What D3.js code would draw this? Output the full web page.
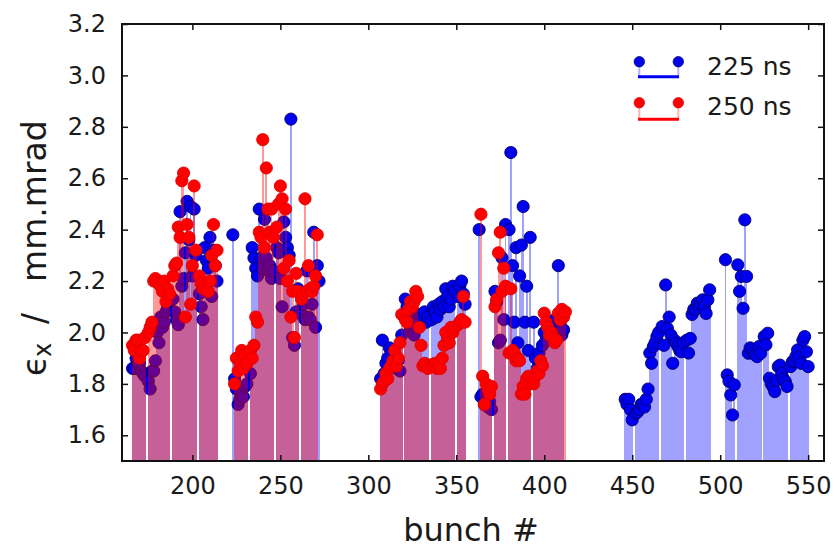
<!DOCTYPE html>
<html><head><meta charset="utf-8">
<script src="https://cdn.jsdelivr.net/npm/d3@7"></script>
<style>body{margin:0;background:#fff}</style>
</head><body>
<svg id="c" width="834" height="554"></svg>
<script>
// ---- data ----
const xTicks = [200, 250, 300, 350, 400, 450, 500, 550];
const yTicks = [1.6, 1.8, 2.0, 2.2, 2.4, 2.6, 2.8, 3.0, 3.2];
const seriesLabels = ["225 ns", "250 ns"];

// 225 ns (blue): train start bunches and per-bunch values (null = empty slot)
const blueStarts = [166, 223, 307, 363, 446, 503];
const blueA = [1.86,1.86,1.90,1.88,1.88,1.85,1.84,1.83,null,1.81,1.78,1.85,1.85,1.89,2.00,1.96,2.06,2.02,2.04,2.08,2.10,2.12,null,2.13,2.08,2.05,2.03,2.47,2.18,2.21,2.31,2.51,2.36,2.49,2.22,2.48,2.30,null,2.15,2.10,2.05,2.33,2.28,2.25,2.37,2.14,2.32,2.26,2.20];
const blueB = [2.38,1.82,1.78,1.72,1.74,1.76,1.75,1.79,1.80,null,1.84,2.33,2.29,2.25,2.22,2.48,2.29,2.25,2.44,2.29,2.24,2.26,2.21,2.24,null,2.33,2.31,2.21,2.10,2.43,2.37,2.33,2.30,2.83,1.98,1.95,2.08,2.17,null,2.07,2.11,2.05,2.24,2.06,2.05,2.11,2.39,2.02,2.26,2.20];
const blueC = [1.82,1.97,1.84,1.88,1.90,1.94,1.92,1.88,1.90,1.86,1.89,1.85,1.99,null,2.13,2.10,2.06,2.02,2.03,1.99,2.02,2.04,2.07,2.06,2.05,2.08,2.04,2.06,null,2.05,2.10,2.08,2.06,2.11,2.09,2.12,2.10,2.17,2.14,2.10,2.13,2.18,2.16,null,2.14,2.18,2.20,2.15,2.11];
const blueD = [2.40,1.75,1.76,1.72,1.74,1.71,1.73,1.70,null,2.16,2.12,1.96,1.97,2.29,2.05,2.42,null,2.40,2.70,2.26,2.04,2.33,1.96,2.22,2.34,2.49,2.04,2.18,1.93,2.37,null,2.04,1.90,1.86,1.92,1.88,1.95,2.00,1.97,2.02,1.99,2.04,2.02,2.05,2.03,2.26,2.04,1.99,2.01];
const blueE = [1.74,1.72,1.74,1.70,1.66,null,1.685,1.69,1.70,1.72,1.72,1.71,1.74,1.78,1.92,1.88,1.945,1.96,1.984,2.00,null,2.023,1.95,2.185,2.016,2.06,1.99,1.88,1.97,1.958,1.945,1.93,1.925,1.96,null,1.97,1.92,1.977,2.07,2.09,2.09,2.114,2.10,2.11,2.127,2.10,2.074,2.127,2.166];
const blueF = [2.283,1.835,1.81,1.757,1.679,1.796,null,2.263,2.16,2.218,2.094,2.438,2.218,1.919,1.94,1.932,1.92,1.912,1.906,1.945,1.919,null,1.984,1.952,1.997,1.822,1.80,1.789,1.77,1.815,1.867,1.873,1.841,1.82,1.809,1.79,null,1.867,1.886,1.89,1.906,1.932,1.906,1.88,1.97,1.984,1.925,1.867];

// 250 ns (red)
const redStarts = [166, 224, 307, 364];
const redA = [1.95,1.93,1.97,1.97,1.90,1.93,1.93,1.98,null,2.00,2.02,2.04,2.20,2.21,2.20,2.19,2.18,2.16,2.20,2.12,2.17,2.15,null,2.22,2.26,2.27,2.41,2.37,2.59,2.62,2.06,2.42,2.37,2.11,2.26,2.57,2.32,null,2.22,2.19,2.17,2.18,2.17,2.16,2.20,2.30,2.42,2.26,2.32];
const redB = [1.80,1.90,1.85,1.88,1.93,1.86,1.91,1.88,null,1.93,1.90,1.95,2.06,2.04,2.39,2.37,2.75,2.33,2.64,2.48,2.39,2.48,2.37,null,2.41,2.50,2.57,2.52,2.25,2.48,2.20,2.28,2.06,2.16,1.98,2.23,2.16,null,2.13,2.15,2.52,2.16,2.26,2.17,2.16,2.18,2.22,2.38];
const redC = [1.78,1.80,1.81,1.84,1.82,1.86,1.87,1.89,1.93,1.87,1.90,1.96,2.07,null,2.05,2.04,2.09,2.12,2.10,2.12,2.16,2.14,2.02,1.95,1.87,1.88,1.87,1.86,null,1.875,1.87,1.88,1.86,1.87,1.86,1.90,1.95,2.00,1.98,1.96,2.02,2.00,2.02,null,2.03,2.04,2.05,2.14,2.04];
const redD = [2.46,1.83,1.72,1.80,1.78,1.76,1.79,null,2.10,2.13,2.31,2.39,2.16,2.25,2.18,null,1.92,2.17,1.93,1.92,1.89,1.90,1.89,1.76,1.79,1.76,1.82,1.83,1.80,null,1.80,1.83,1.85,1.84,1.89,1.87,2.075,2.04,2.02,1.99,2.00,1.98,1.96,1.97,2.075,2.05,2.09,2.06,2.08];

function flatten(starts, trains) {
  const out = [];
  trains.forEach((t, k) => t.forEach((v, i) => { if (v != null) out.push({ b: starts[k] + i, v }); }));
  return out;
}
const blue = flatten(blueStarts, [blueA, blueB, blueC, blueD, blueE, blueF]);
const red = flatten(redStarts, [redA, redB, redC, redD]);

// ---- layout ----
const L = 122, R = 824, T = 24, B = 461;
const x = d3.scaleLinear().domain([160, 559]).range([L, R]);
const y = d3.scaleLinear().domain([1.5, 3.2]).range([B, T]);
const FONT = "DejaVu Sans, sans-serif";

const svg = d3.select("#c");
svg.append("defs").append("clipPath").attr("id", "clip")
  .append("rect").attr("x", L).attr("y", T).attr("width", R - L).attr("height", B - T);
const g = svg.append("g").attr("clip-path", "url(#clip)");

function bars(data, color) {
  g.append("g").attr("shape-rendering", "crispEdges").selectAll("rect").data(data).join("rect")
    .attr("x", d => x(d.b - 0.5)).attr("width", d => x(d.b + 0.5) - x(d.b - 0.5))
    .attr("y", d => y(d.v)).attr("height", d => y(1.5) - y(d.v))
    .attr("fill", color);
}
function dots(data, fill, stroke) {
  g.append("g").selectAll("circle").data(data).join("circle")
    .attr("cx", d => x(d.b)).attr("cy", d => y(d.v)).attr("r", 6.1)
    .attr("fill", fill).attr("stroke", stroke).attr("stroke-width", 0.9);
}
bars(blue, "rgba(0,0,255,0.37)");
dots(blue, "#0000f0", "#000070");
bars(red, "rgba(255,0,0,0.40)");
dots(red, "#ff0000", "#e00000");

// ---- axes ----
function styleAxis(sel) {
  sel.select(".domain").remove();
  sel.selectAll(".tick line").attr("stroke", "#111").attr("stroke-width", 1.5);
  sel.selectAll(".tick text").attr("fill", "#1a1a1a").style("font-family", FONT).style("font-size", "24px");
}
svg.append("g").attr("transform", `translate(0,${B})`)
  .call(d3.axisBottom(x).tickValues(xTicks).tickSizeInner(-6).tickSizeOuter(0).tickPadding(16).tickFormat(d3.format("d")))
  .call(styleAxis);
svg.append("g").attr("transform", `translate(0,${T})`)
  .call(d3.axisTop(x).tickValues(xTicks).tickSizeInner(-6).tickSizeOuter(0).tickFormat(""))
  .call(styleAxis);
svg.append("g").attr("transform", `translate(${L},0)`)
  .call(d3.axisLeft(y).tickValues(yTicks).tickSizeInner(-6).tickSizeOuter(0).tickPadding(16).tickFormat(d3.format(".1f")))
  .call(styleAxis);
svg.append("g").attr("transform", `translate(${R},0)`)
  .call(d3.axisRight(y).tickValues(yTicks).tickSizeInner(-6).tickSizeOuter(0).tickFormat(""))
  .call(styleAxis);

svg.append("rect").attr("x", L).attr("y", T).attr("width", R - L).attr("height", B - T)
  .attr("fill", "none").attr("stroke", "#111").attr("stroke-width", 2);

// ---- titles ----
svg.append("text").attr("x", 471).attr("y", 541).attr("text-anchor", "middle")
  .style("font-family", FONT).style("font-size", "32px").attr("fill", "#1a1a1a").text("bunch #");

const yt = svg.append("text").attr("transform", "translate(46,376) rotate(-90)")
  .style("font-family", FONT).style("font-size", "33px").attr("fill", "#1a1a1a");
yt.append("tspan").attr("x", 0).attr("y", 0).text("ϵ");
yt.append("tspan").attr("x", 19).attr("y", 5).style("font-size", "24px").text("x");
yt.append("tspan").attr("x", 52).attr("y", 0).text("/");
yt.append("tspan").attr("x", 94).attr("y", 0).text("mm.mrad");

// ---- legend ----
const legend = [
  { label: seriesLabels[0], color: "#0000f0", stroke: "#000070", stem: "rgba(0,0,255,0.3)", dy: 61.7, ly: 76.7, ty: 75 },
  { label: seriesLabels[1], color: "#ff0000", stroke: "#e00000", stem: "rgba(255,0,0,0.3)", dy: 102.7, ly: 119.3, ty: 115 }
];
const lg = svg.append("g");
legend.forEach(e => {
  [639.3, 678.3].forEach(cx => {
    lg.append("rect").attr("x", cx - 1).attr("y", e.dy).attr("width", 2).attr("height", e.ly - e.dy).attr("fill", e.stem);
  });
  lg.append("line").attr("x1", 638).attr("x2", 679).attr("y1", e.ly).attr("y2", e.ly)
    .attr("stroke", e.color).attr("stroke-width", 3);
  [639.3, 678.3].forEach(cx => {
    lg.append("circle").attr("cx", cx).attr("cy", e.dy).attr("r", 5.2).attr("fill", e.color).attr("stroke", e.stroke).attr("stroke-width", 0.8);
  });
  lg.append("text").attr("x", 707).attr("y", e.ty).style("font-family", FONT).style("font-size", "25px")
    .attr("fill", "#1a1a1a").attr("xml:space", "preserve").text(e.label);
});
</script>
</body></html>
